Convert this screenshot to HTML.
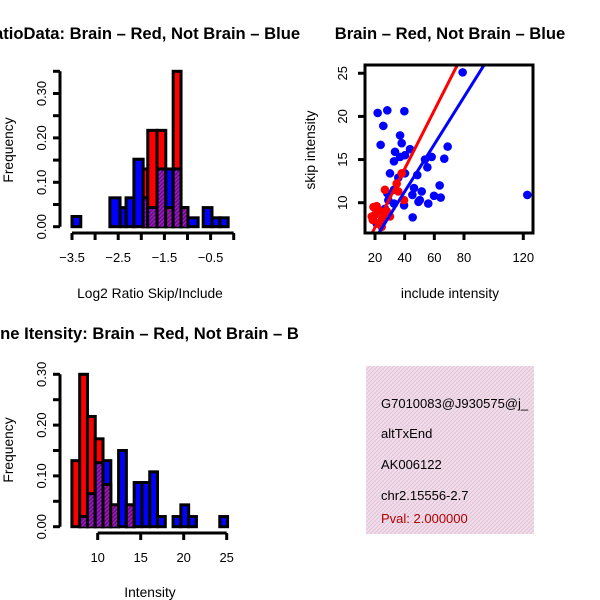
<!DOCTYPE html>
<html><head><meta charset="utf-8"><style>
body{margin:0;background:#fff}
svg{display:block;font-family:"Liberation Sans",Arial,sans-serif}
</style></head><body>
<svg id="c" width="600" height="600" viewBox="0 0 600 600" xmlns="http://www.w3.org/2000/svg">
<defs>
<clipPath id="clipL"><rect x="0" y="0" width="300" height="600"/></clipPath>
<clipPath id="clipBox"><rect x="365" y="65" width="168" height="168"/></clipPath>
<clipPath id="clipTxt"><rect x="366" y="366" width="168" height="168"/></clipPath>
<pattern id="hatch" width="4" height="4" patternUnits="userSpaceOnUse">
<rect width="4" height="4" fill="#6a0a8a"/><path d="M-1,1 L1,-1 M0,4 L4,0 M3,5 L5,3" stroke="#a020c0" stroke-width="1.2"/></pattern>
<pattern id="pink" width="4" height="4" patternUnits="userSpaceOnUse">
<rect width="4" height="4" fill="#f7dcf0"/><path d="M-1,1 L1,-1 M0,4 L4,0 M3,5 L5,3" stroke="#d8c8d0" stroke-width="1"/></pattern>
</defs>
<g id="p1" clip-path="url(#clipL)"></g>
<g id="p3" clip-path="url(#clipL)"></g>
<g id="p2"></g>
<g id="p4">
<rect x="366" y="366" width="168" height="168" fill="url(#pink)"/>
<g clip-path="url(#clipTxt)" font-size="13">
<text x="381" y="408">G7010083@J930575@j_</text>
<text x="381" y="438">altTxEnd</text>
<text x="381" y="469">AK006122</text>
<text x="381" y="500">chr2.15556-2.7</text>
<text x="381" y="523" fill="#b00000">Pval: 2.000000</text>
</g></g>
</svg>
<script>
const NS="http://www.w3.org/2000/svg";
function mk(parent,tag,attrs,txt){const e=document.createElementNS(NS,tag);for(const k in attrs)e.setAttribute(k,attrs[k]);if(txt!==undefined)e.textContent=txt;parent.appendChild(e);return e;}

// ---- Panel 1: log2 ratio histogram ----
const ratioEdges=[-3.5,-3.31,-2.68,-2.46,-2.33,-2.16,-1.96,-1.86,-1.66,-1.47,-1.31,-1.14,-0.99,-0.77,-0.66,-0.47,-0.30,-0.12];
const ratioBlue=[0.023,0,0.065,0.043,0.065,0.152,0.065,0.043,0.13,0.13,0.13,0.043,0.02,0,0.043,0.02,0.02];
const ratioRed=[0,0,0,0,0,0,0.13,0.217,0.217,0.043,0.35,0.043,0,0,0,0,0];
const ratioXTicks=[-3.5,-3,-2.5,-2,-1.5,-1,-0.5,0];
const ratioXLabels=["-3.5","","-2.5","","-1.5","","-0.5",""];
const ratioYTicks=[0,0.05,0.1,0.15,0.2,0.25,0.3,0.35];
const ratioYLabels=["0.00","","0.10","","0.20","","0.30",""];

// ---- Panel 3: intensity histogram ----
const intStart=7, intWidth=0.905;
const intBlue=[0,0.02,0.065,0.126,0.13,0.043,0.15,0.043,0.087,0.087,0.108,0.02,0,0.02,0.043,0.02,0,0,0,0.02];
const intRed=[0.13,0.30,0.217,0.173,0.083,0.043,0,0.043,0,0,0,0,0,0,0,0,0,0,0,0];
const intXTicks=[10,15,20,25];
const intYTicks=[0,0.05,0.1,0.15,0.2,0.25,0.3];
const intYLabels=["0.00","","0.10","","0.20","","0.30"];

// ---- Panel 2: scatter ----
const blueX=[21.8,28.3,39.8,25.6,36.9,38.0,23.8,43.6,33.5,40.2,36.9,32.8,53.7,58.2,55.3,66.7,69,30.1,35.7,40.2,48.5,28.3,32.8,46.3,51.5,45.2,50.2,49.3,55.9,59.8,64.3,63.6,39.6,45.4,32.8,26.7,21.1,79.1,122.7,29];
const blueY=[20.4,20.7,20.6,18.9,17.8,16.9,16.7,16.2,15.9,15.5,15.3,14.8,15.0,15.3,14.1,15.1,16.5,13.4,12.9,13.4,13.2,11.1,11.5,11.7,11.3,10.9,10.3,10.1,9.9,10.8,10.6,12.0,9.7,8.3,9.9,9.3,7.6,25.1,10.9,10.3];
const redX=[21.1,20,17.8,23.4,26.7,30.1,25.6,26.7,35.7,34.6,38,39.6,23.4,19,22,18.5,28,24.5];
const redY=[9.6,8.6,8.4,9.0,8.6,8.4,8.2,11.5,11.3,12.2,13.4,10.3,7.6,9.5,9.2,8.0,9.0,7.2];
const fitRed=[0.36,0.339];   // intercept, slope
const fitBlue=[0.32,0.274];
const scXTicks=[20,40,60,80,120];
const scYTicks=[10,15,20,25];

function hist(g,x,y,edges,blue,red,name){
  for(let i=0;i<blue.length;i++){
    const x0=x(edges[i]),x1=x(edges[i+1]);
    const b=blue[i],r=red[i];
    const order=b>=r?[["blue",b,"#0000ff"],["red",r,"#ff0000"]]:[["red",r,"#ff0000"],["blue",b,"#0000ff"]];
    for(const [nm,v,c] of order){
      if(v<=0&&!(b===0&&r===0&&nm==="blue"))continue;
      const e=mk(g,"rect",{x:x0,y:y(v),width:x1-x0,height:y(0)-y(v),fill:c,stroke:"#000","stroke-width":3});
      
      
    }
    const m=Math.min(b,r);
    if(m>0){
      const e=mk(g,"rect",{x:x0+1.5,y:y(m)+1.5,width:x1-x0-3,height:y(0)-y(m)-1.5,fill:"url(#hatch)"});
      
      
    }
  }
}
function yAxis(g,ax,y,ticks,labels,lblX){
  mk(g,"line",{x1:ax,x2:ax,y1:y(ticks[0]),y2:y(ticks[ticks.length-1]),stroke:"#000","stroke-width":3});
  ticks.forEach((t,i)=>{
    mk(g,"line",{x1:ax-7,x2:ax,y1:y(t),y2:y(t),stroke:"#000","stroke-width":3});
    if(labels[i]){const e=mk(g,"text",{x:lblX,y:y(t),"font-size":13,"text-anchor":"middle",transform:`rotate(-90 ${lblX} ${y(t)})`},labels[i]);
      
      }
  });
}
function xAxis(g,ay,x,ticks,labels,lblY){
  mk(g,"line",{x1:x(ticks[0]),x2:x(ticks[ticks.length-1]),y1:ay,y2:ay,stroke:"#000","stroke-width":3});
  ticks.forEach((t,i)=>{
    mk(g,"line",{x1:x(t),x2:x(t),y1:ay,y2:ay+7,stroke:"#000","stroke-width":3});
    if(labels[i]){const e=mk(g,"text",{x:x(t),y:lblY,"font-size":13,"text-anchor":"middle"},labels[i].replace("-","\u2212"));
      
      }
  });
}
function lbl(g,x,y,t,opts,name){const a=Object.assign({x:x,y:y,"font-size":13.8,"text-anchor":"middle"},opts||{});const e=mk(g,"text",a,t);
  
  return e;}

// Panel 1
(function(){
  const g=document.getElementById("p1");
  const x=v=>72+(v+3.5)*46.2, y=v=>226.7-v*444;
  hist(g,x,y,ratioEdges,ratioBlue,ratioRed,"ratio");
  yAxis(g,60,y,ratioYTicks,ratioYLabels,46);
  xAxis(g,233,x,ratioXTicks,ratioXLabels,262);
  lbl(g,150,298,"Log2 Ratio Skip/Include",{},"x-axis-title");
  lbl(g,13,150,"Frequency",{transform:"rotate(-90 13 150)"},"y-axis-title");
  lbl(g,-18,39,"RatioData: Brain \u2013 Red, Not Brain \u2013 Blue",{"font-size":16.6,"font-weight":"bold","text-anchor":"start"},"chart-title");
})();
// Panel 3
(function(){
  const g=document.getElementById("p3");
  const x=v=>97.7+(v-10)*8.6, y=v=>526.7-v*508;
  const edges=[];for(let i=0;i<=intBlue.length;i++)edges.push(intStart+i*intWidth);
  hist(g,x,y,edges,intBlue,intRed,"intensity");
  yAxis(g,60,y,intYTicks,intYLabels,46);
  xAxis(g,533,x,intXTicks,intXTicks.map(String),562);
  lbl(g,150,597,"Intensity",{},"x-axis-title");
  lbl(g,13,450,"Frequency",{transform:"rotate(-90 13 450)"},"y-axis-title");
  lbl(g,-22,339,"Gene Itensity: Brain \u2013 Red, Not Brain \u2013 Blue",{"font-size":16.6,"font-weight":"bold","text-anchor":"start"},"chart-title");
})();
// Panel 2
(function(){
  const g=document.getElementById("p2");
  const x=v=>375+(v-20)*1.483, y=v=>202.7-(v-10)*8.63;
  const pts=mk(g,"g",{"clip-path":"url(#clipBox)"});
  blueX.forEach((v,i)=>{const e=mk(pts,"circle",{cx:x(v),cy:y(blueY[i]),r:4.3,fill:"#0000ff"});
    
    });
  redX.forEach((v,i)=>{const e=mk(pts,"circle",{cx:x(v),cy:y(redY[i]),r:4.3,fill:"#ff0000"});
    
    });
  [[fitRed,"#ff0000","red-fit-line"],[fitBlue,"#0000ff","blue-fit-line"]].forEach(([f,c,n])=>{
    const e=mk(pts,"line",{x1:x(0),y1:y(f[0]),x2:x(140),y2:y(f[0]+f[1]*140),stroke:c,"stroke-width":3});
    
    });
  const box=mk(g,"rect",{x:365,y:65,width:168,height:168,fill:"none",stroke:"#000","stroke-width":3});
  
  
  yAxis(g,365,y,scYTicks,scYTicks.map(String),347);
  xAxis(g,233,x,scXTicks,scXTicks.map(String),262);
  lbl(g,450,298,"include intensity",{},"x-axis-title");
  lbl(g,315,150,"skip intensity",{transform:"rotate(-90 315 150)"},"y-axis-title");
  lbl(g,450,39,"Brain \u2013 Red, Not Brain \u2013 Blue",{"font-size":16.6,"font-weight":"bold"},"chart-title");
})();
</script>
</body></html>
